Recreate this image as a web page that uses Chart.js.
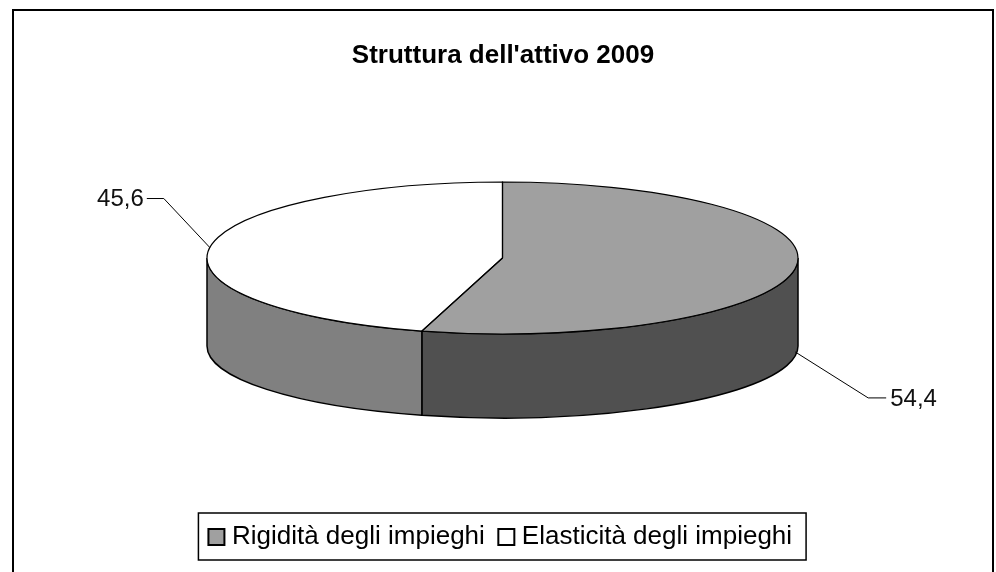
<!DOCTYPE html>
<html lang="it">
<head>
    <meta charset="UTF-8">
    <title>Struttura dell'attivo 2009</title>
    <script src="https://cdn.jsdelivr.net/npm/chart.js@4/dist/chart.umd.min.js"></script>
    <style>
        html, body { margin: 0; padding: 0; background: #fff; overflow: hidden; }
        #frame { position: absolute; left: 12px; top: 9px; width: 978px; height: 563px; border: 2px solid #000; border-bottom: none; }
        canvas { display: block; }
    </style>
</head>
<body>
    <div id="frame"><canvas id="chart" width="978" height="561"></canvas></div>

    <script>
        const chartTitle = "Struttura dell'attivo 2009";
        const categories = ['Rigidità degli impieghi', 'Elasticità degli impieghi'];
        const values = [54.4, 45.6];
        const topColors = ['#a0a0a0', '#ffffff'];
        const wallColors = ['#505050', '#808080'];

        // geometria della torta "3D" (coordinate del canvas)
        const pieX = 488.5, pieY = 247, radiusX = 295.5, radiusY = 76, depth = 88, bottomRadiusY = 72;
        // gomiti delle linee guida: spostamento dal punto sulla torta, poi tratto orizzontale
        const leaderOffsets = [[73, 46, 18], [-46, -49, -17]];
        const fontName = '"Liberation Sans", Arial, sans-serif';

        const pie3d = {
            id: 'pie3d',
            beforeDatasetDraw(chart, args) {
                const ctx = chart.ctx;
                // pareti laterali, solo la metà davanti
                args.meta.data.forEach((arc, i) => {
                    const a0 = Math.max(arc.startAngle, 0);
                    const a1 = Math.min(arc.endAngle, Math.PI);
                    if (a1 <= a0) return;
                    ctx.beginPath();
                    ctx.ellipse(pieX, pieY, radiusX, radiusY, 0, a0, a1);
                    ctx.ellipse(pieX, pieY + depth, radiusX, bottomRadiusY, 0, a1, a0, true);
                    ctx.closePath();
                    ctx.fillStyle = wallColors[i];
                    ctx.fill();
                    ctx.strokeStyle = '#000';
                    ctx.lineWidth = 1.5;
                    ctx.stroke();
                });
                // la faccia superiore la disegna Chart.js, schiacciata
                const first = args.meta.data[0];
                ctx.save();
                ctx.translate(pieX, pieY);
                ctx.scale(radiusX / first.outerRadius, radiusY / first.outerRadius);
                ctx.translate(-first.x, -first.y);
            },
            afterDatasetDraw(chart, args) {
                const ctx = chart.ctx;
                ctx.restore();
                args.meta.data.forEach((arc, i) => {
                    ctx.beginPath();
                    ctx.moveTo(pieX, pieY);
                    ctx.ellipse(pieX, pieY, radiusX, radiusY, 0, arc.startAngle, arc.endAngle);
                    ctx.closePath();
                    ctx.strokeStyle = '#000';
                    ctx.lineWidth = 1.2;
                    ctx.stroke();

                    // linea guida ed etichetta
                    const mid = (arc.startAngle + arc.endAngle) / 2;
                    const ax = pieX + radiusX * Math.cos(mid);
                    let ay = pieY + radiusY * Math.sin(mid);
                    if (Math.sin(mid) > 0) ay = pieY + depth - 4 + bottomRadiusY * Math.sin(mid);
                    const [dx, dy, tail] = leaderOffsets[i];
                    ctx.beginPath();
                    ctx.moveTo(ax, ay);
                    ctx.lineTo(ax + dx, ay + dy);
                    ctx.lineTo(ax + dx + tail, ay + dy);
                    ctx.lineWidth = 1;
                    ctx.stroke();
                    ctx.font = '24px ' + fontName;
                    ctx.fillStyle = '#111';
                    ctx.textBaseline = 'middle';
                    ctx.textAlign = tail > 0 ? 'left' : 'right';
                    ctx.fillText(String(values[i]).replace('.', ','), ax + dx + tail + (tail > 0 ? 4 : -3), ay + dy + 1);
                });
            },
            afterDraw(chart) {
                // cornice della legenda
                const boxes = chart.legend.legendHitBoxes;
                const last = boxes[boxes.length - 1];
                const ctx = chart.ctx;
                const left = boxes[0].left - 15.5;
                const right = last.left + last.width + 14;
                ctx.strokeStyle = '#000';
                ctx.lineWidth = 1.5;
                ctx.strokeRect(left, boxes[0].top - 11, right - left, 47);
            }
        };

        new Chart(document.getElementById('chart'), {
            type: 'pie',
            data: {
                labels: categories,
                datasets: [{
                    data: values,
                    backgroundColor: topColors,
                    borderWidth: 0,
                    clip: false
                }]
            },
            options: {
                responsive: false,
                animation: false,
                layout: { padding: { bottom: 12 } },
                plugins: {
                    tooltip: { enabled: false },
                    title: {
                        display: true,
                        text: chartTitle,
                        color: '#000',
                        font: { family: fontName, size: 26, weight: 'bold' },
                        padding: { top: 29, bottom: 10 }
                    },
                    legend: {
                        position: 'bottom',
                        labels: {
                            color: '#111',
                            font: { family: fontName, size: 26 },
                            usePointStyle: true,
                            pointStyle: 'rect',
                            boxWidth: 5,
                            boxHeight: 16,
                            padding: 19,
                            generateLabels: () => categories.map((text, i) => ({
                                text,
                                index: i,
                                fillStyle: topColors[i],
                                strokeStyle: '#000',
                                lineWidth: 2,
                                pointStyle: 'rect',
                                hidden: false
                            }))
                        }
                    }
                }
            },
            plugins: [pie3d]
        });
    </script>
</body>
</html>
